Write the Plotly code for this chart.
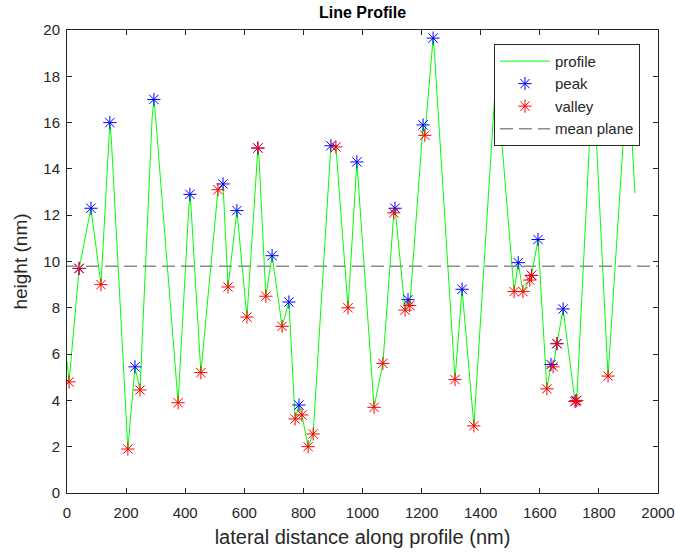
import plotly.graph_objects as go

# profile vertices (nm, nm)
profile_x = [0, 7, 41, 81, 115, 140, 145, 150, 206, 230, 247, 288, 294, 300, 376, 412, 416, 420,
             453, 511, 528, 545, 575, 609, 642, 646, 650, 673, 694, 728, 751, 772, 785, 795, 816,
             833, 893, 910, 951, 981, 1039, 1069, 1106, 1110, 1144, 1154, 1160, 1205, 1211,
             1234, 1239, 1244, 1313, 1337, 1377, 1447, 1453, 1459, 1513, 1527, 1543, 1566,
             1572, 1594, 1624, 1638, 1645, 1658, 1679, 1719, 1725, 1775, 1780, 1785, 1831,
             1893, 1898, 1903, 1922]
profile_y = [5.7, 4.8, 9.7, 12.3, 9.0, 15.3, 16.0, 15.3, 1.9, 5.45, 4.45, 16.2, 17.0, 16.2, 3.9,
             12.3, 12.9, 12.3, 5.2, 13.1, 13.35, 8.9, 12.2, 7.6, 14.4, 14.9, 14.4, 8.5, 10.25,
             7.2, 8.25, 3.2, 3.8, 3.37, 2.0, 2.55, 15.0, 14.95, 8.0, 14.3, 3.7, 5.6, 12.1, 12.3,
             7.9, 8.35, 8.1, 15.9, 15.45, 18.9, 19.65, 18.9, 4.9, 8.8, 2.9, 17.1, 17.8, 17.1,
             8.7, 9.95, 8.7, 9.2, 9.4, 10.95, 4.5, 5.55, 5.45, 6.45, 7.95, 3.95, 4.0, 16.9,
             17.6, 16.9, 5.05, 17.3, 18.0, 17.3, 12.95]

peak_x = [41, 81, 145, 230, 294, 416, 528, 575, 646, 694, 751, 785, 893, 981, 1110, 1154,
          1205, 1239, 1337, 1527, 1572, 1594, 1638, 1658, 1679, 1722]
peak_y = [9.7, 12.3, 16.0, 5.45, 17.0, 12.9, 13.35, 12.2, 14.9, 10.25, 8.25, 3.8, 15.0, 14.3,
          12.3, 8.35, 15.9, 19.65, 8.8, 9.95, 9.4, 10.95, 5.55, 6.45, 7.95, 3.98]

valley_x = [7, 41, 115, 206, 247, 376, 453, 511, 545, 609, 646, 673, 728, 772, 795, 816, 833,
            910, 951, 1039, 1069, 1106, 1144, 1160, 1211, 1313, 1377, 1513, 1543, 1566, 1572,
            1624, 1645, 1658, 1719, 1725, 1831]
valley_y = [4.8, 9.7, 9.0, 1.9, 4.45, 3.9, 5.2, 13.1, 8.9, 7.6, 14.9, 8.5, 7.2, 3.2, 3.37, 2.0,
            2.55, 14.95, 8.0, 3.7, 5.6, 12.1, 7.9, 8.1, 15.45, 4.9, 2.9, 8.7, 8.7, 9.2, 9.4,
            4.5, 5.45, 6.45, 3.95, 4.0, 5.05]

mean_plane = 9.8
x_range = [0, 2000]
y_range = [0, 20]

fig = go.Figure()
fig.add_trace(go.Scatter(x=profile_x, y=profile_y, mode="lines", name="profile",
                         line=dict(color="#00ff00", width=1)))
fig.add_trace(go.Scatter(x=peak_x, y=peak_y, mode="markers", name="peak",
                         marker=dict(symbol="asterisk-open", size=11,
                                     color="#0000ff", line=dict(color="#0000ff", width=1))))
fig.add_trace(go.Scatter(x=valley_x, y=valley_y, mode="markers", name="valley",
                         marker=dict(symbol="asterisk-open", size=11,
                                     color="#ff0000", line=dict(color="#ff0000", width=1))))
fig.add_trace(go.Scatter(x=x_range, y=[mean_plane, mean_plane], mode="lines", name="mean plane",
                         line=dict(color="#8c8c8c", width=1.5, dash="13px,6px")))

axis_common = dict(showline=True, linecolor="#262626", linewidth=1, mirror="ticks",
                   ticks="inside", ticklen=5, tickcolor="#262626", showgrid=False,
                   zeroline=False, automargin=False,
                   tickfont=dict(size=15, color="#262626"))

fig.update_layout(
    width=675, height=554,
    margin=dict(l=67, r=17, t=30, b=61),
    paper_bgcolor="white", plot_bgcolor="white",
    font=dict(family="Liberation Sans, Arial, sans-serif", color="#262626"),
    title=dict(text="<b>Line Profile</b>", x=0.5, xref="paper", xanchor="center",
               y=0.978, yanchor="middle", font=dict(size=16, color="#000000")),
    xaxis=dict(range=x_range, dtick=200, tick0=0, ticklabelstandoff=6,
               title=dict(text="lateral distance along profile (nm)", font=dict(size=20), standoff=9),
               **axis_common),
    yaxis=dict(range=y_range, dtick=2, tick0=0, ticklabelstandoff=3,
               title=dict(text="height (nm)", font=dict(size=19), standoff=10),
               **axis_common),
    legend=dict(x=0.9695, y=0.970, xanchor="right", yanchor="top",
                bgcolor="white", bordercolor="#262626", borderwidth=1, itemwidth=50,
                font=dict(size=15, color="#262626"), tracegroupgap=0),
    showlegend=True,
)

fig.write_html("out.html")
